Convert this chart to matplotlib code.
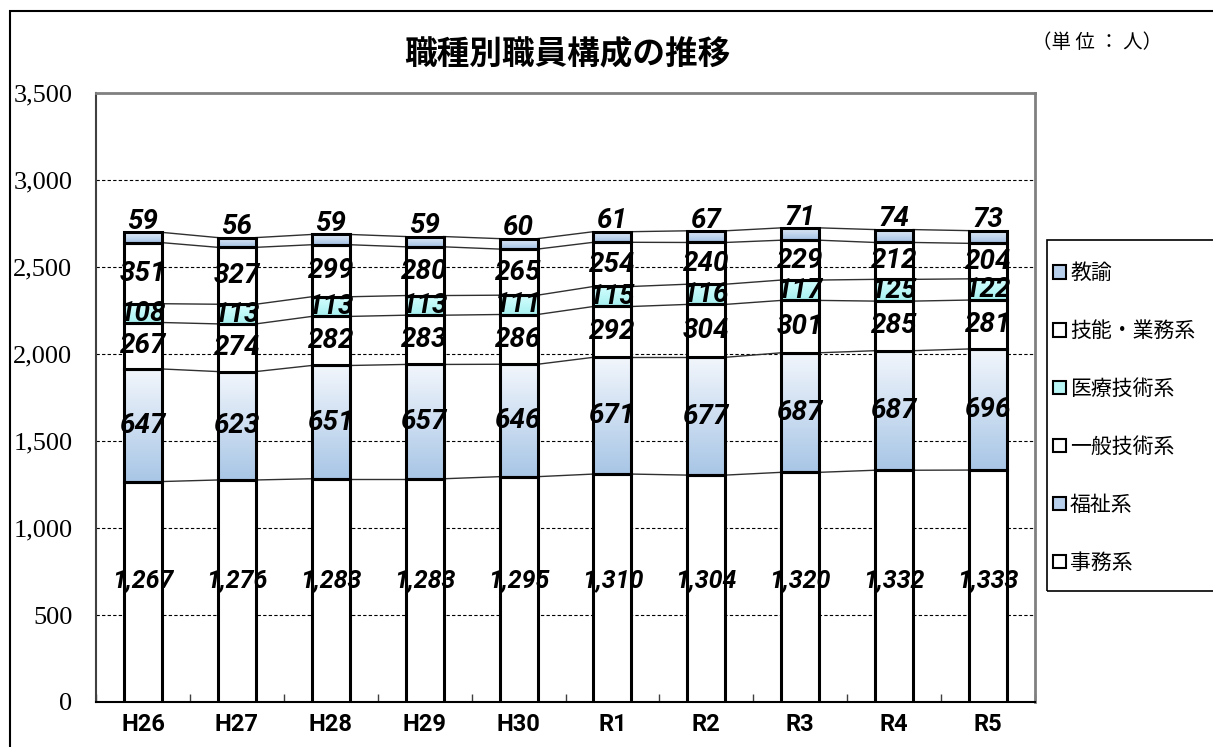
import matplotlib
matplotlib.use("Agg")
import matplotlib.pyplot as plt
import numpy as np
from matplotlib.patches import Rectangle, Patch
from matplotlib.colors import LinearSegmentedColormap

plt.rcParams['font.family'] = ['Noto Sans CJK JP', 'DejaVu Sans']

categories = ['H26', 'H27', 'H28', 'H29', 'H30', 'R1', 'R2', 'R3', 'R4', 'R5']
series_names = ['事務系', '福祉系', '一般技術系', '医療技術系', '技能・業務系', '教諭']
jimu = [1267, 1276, 1283, 1283, 1295, 1310, 1304, 1320, 1332, 1333]
fukushi = [647, 623, 651, 657, 646, 671, 677, 687, 687, 696]
ippan = [267, 274, 282, 283, 286, 292, 304, 301, 285, 281]
iryo = [108, 113, 113, 113, 111, 115, 116, 117, 125, 122]
gino = [351, 327, 299, 280, 265, 254, 240, 229, 212, 204]
kyoyu = [59, 56, 59, 59, 60, 61, 67, 71, 74, 73]
yticks = [0, 500, 1000, 1500, 2000, 2500, 3000, 3500]

series = [jimu, fukushi, ippan, iryo, gino, kyoyu]
# (top colour, bottom colour) per series; None => plain white
grads = [None, ('#f2f6fc', '#a8c6e6'), None, ('#d6ffff', '#a6f0f0'), None, ('#e4edf8', '#a4c2e4')]
legend_colors = ['white', '#b8d0ec', 'white', '#b8f6f6', 'white', '#b8d0ec']

W, H = 1213, 747
fig = plt.figure(figsize=(W / 100, H / 100), dpi=100)

# outer chart frame
fig.patches.append(Rectangle((10 / W, -0.1), 1.2, 1.1 - 11 / H, transform=fig.transFigure,
                             fill=False, edgecolor='black', lw=1.5, zorder=0))

L, R, T, B = 96, 1035, 93, 702
ax = fig.add_axes([L / W, 1 - B / H, (R - L) / W, (B - T) / H])
n = len(categories)
x = np.arange(n)
bw = 0.405
ax.set_xlim(-0.5, n - 0.5)
ax.set_ylim(0, 3500)

for g in yticks[1:-1]:
    ax.axhline(g, color='black', lw=0.8, ls=(0, (3, 2)), zorder=1)

bottoms = np.zeros(n)
tops_list = []
for vals, gr in zip(series, grads):
    vals = np.array(vals, dtype=float)
    bars = ax.bar(x, vals, bw, bottom=bottoms, facecolor='white' if gr is None else 'none',
                  edgecolor='black', lw=2.2, zorder=3)
    if gr is not None:
        cmap = LinearSegmentedColormap.from_list('g', [gr[1], gr[0]])
        grad = np.linspace(0, 1, 64).reshape(-1, 1)
        for b, v, xi in zip(bars, vals, x):
            im = ax.imshow(grad, extent=(xi - bw / 2, xi + bw / 2, b.get_y(), b.get_y() + v),
                           origin='lower', cmap=cmap, aspect='auto', zorder=2.5)
            im.set_clip_path(b)
    bottoms = bottoms + vals
    tops_list.append(bottoms.copy())

# series lines
for tops in tops_list:
    for i in range(n - 1):
        ax.plot([x[i] + bw / 2, x[i + 1] - bw / 2], [tops[i], tops[i + 1]],
                color='#303030', lw=1.0, zorder=2)

# data labels
lab_kw = dict(ha='center', va='center', fontstyle='italic', fontweight='bold',
              family=['Roboto', 'DejaVu Sans'], zorder=6, color='black')
bottoms = np.zeros(n)
for si, vals in enumerate(series):
    for i, v in enumerate(vals):
        fs = 20
        if si == 0:
            yy = 700
            fs = 18
        elif si == len(series) - 1:
            yy = bottoms[i] + v + 62
        else:
            yy = bottoms[i] + v / 2
        ax.text(x[i], yy, f'{v:,}', fontsize=fs, **lab_kw)
    bottoms = bottoms + np.array(vals)

ax.set_yticks(yticks)
ax.set_yticklabels([f'{t:,}' for t in yticks], family=['Liberation Serif'], fontsize=19)
ax.tick_params(axis='y', length=0, pad=17)
ax.set_xticks(x)
ax.set_xticklabels(categories, family=['Roboto', 'DejaVu Sans'],
                   fontweight='bold', fontsize=17)
ax.tick_params(axis='x', length=0, pad=8)
ax.set_xticks(np.arange(n + 1) - 0.5, minor=True)
ax.tick_params(axis='x', which='minor', direction='in', length=6, width=1, color='#404040')

for s in ['top', 'right']:
    ax.spines[s].set_color('#808080')
    ax.spines[s].set_linewidth(2)
ax.spines['left'].set_color('#404040')
ax.spines['left'].set_linewidth(1.5)
ax.spines['bottom'].set_color('black')
ax.spines['bottom'].set_linewidth(1.5)

fig.text(567 / W, 1 - 54 / H, '職種別職員構成の推移', ha='center', va='center',
         fontsize=23.5, fontweight='bold')
fig.text(1097 / W, 1 - 43 / H, '（単 位 ： 人）', ha='center', va='center', fontsize=14)

# legend
fig.patches.append(Rectangle((1047 / W, 1 - 591 / H), 0.2, (591 - 240) / H,
                             transform=fig.transFigure, fill=False, edgecolor='black',
                             lw=1.2, zorder=0))
handles = [Patch(facecolor=legend_colors[i], edgecolor='black', lw=1.5, label=series_names[i])
           for i in range(len(series_names))][::-1]
fig.legend(handles=handles, loc='upper left', bbox_to_anchor=(1043 / W, 1 - 252 / H),
           frameon=False, fontsize=15, handlelength=0.6, handleheight=0.6,
           handletextpad=0.2, labelspacing=1.72, borderpad=0)

fig.savefig('out.png', dpi=100)
